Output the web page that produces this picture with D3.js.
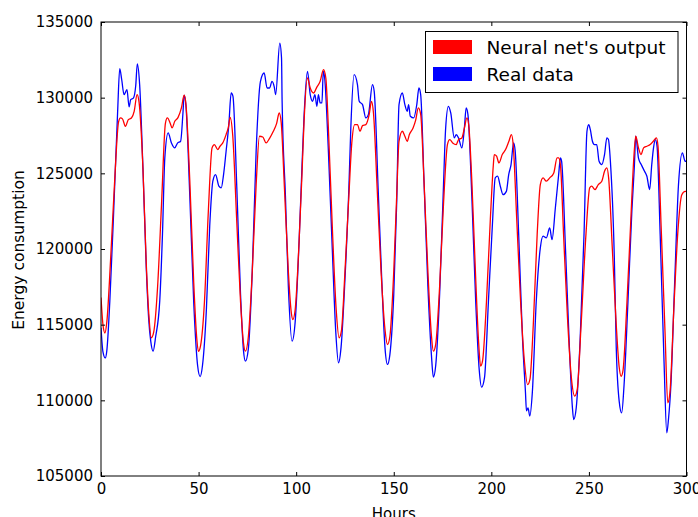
<!DOCTYPE html>
<html><head><meta charset="utf-8">
<script src="https://cdn.jsdelivr.net/npm/d3@7"></script>
<style>
html,body{margin:0;padding:0;background:#fff;}
svg{display:block;font-family:"DejaVu Sans",sans-serif;}
</style></head>
<body>
<svg id="chart" width="698" height="517"></svg>
<script>
// ---- data ----
const seriesNames = ["Neural net's output", "Real data"];
const seriesColors = ["#ff0000", "#0000ff"];
const xTicks = [0, 50, 100, 150, 200, 250, 300];
const yTicks = [105000, 110000, 115000, 120000, 125000, 130000, 135000];

const predHours = [0,1,2,3,5,7,9,10,11,12.5,14,15.6,17,18.5,19.5,21.5,23.2,24.5,25.8,27,29,31,33,34,35.5,36.4,37.8,39.5,41.2,42.6,43.5,45.5,47.5,49,49.9,51,53,55,56.9,58.1,59.8,61,62.4,64.1,65.2,66.2,67.5,69.5,71.5,73,74,75.5,77.5,79.5,81.2,82.9,84.6,86.3,88.3,90,91.3,92.3,94,96,97.5,98.3,99.5,101.5,103,104,105.8,107.2,108.9,110.6,112.3,114,115.2,116.5,118.5,120.5,122,123.2,125,127,128.5,130,131.4,132.7,134,135.7,137.4,138.6,139.6,141.5,143.5,145.5,146.8,148,150,151.5,152.7,154.4,155.7,156.9,158,159.9,161.2,162.6,163.8,165.5,167.5,169.3,170.3,171.5,173.5,175.5,177.5,178.7,180.2,182,183.2,184.9,186.2,187.5,188.4,190,192,193.5,194.5,195.5,197.5,199.5,201,201.5,202.7,203.9,205.6,207.3,209,210.3,211.2,213,215,217,218.6,219.8,221.5,223.5,225.1,226.5,228.2,229.9,232,233.7,234.5,235.4,237,239,241,242.7,244,246,248.5,250.4,251.4,253.1,254.8,256.6,258,259.2,260.1,262,264,265.5,266.5,267.5,269.5,271.5,273,274,275.4,276.7,278,279.7,281.4,283,284.6,285.4,287,289,290.4,291.5,293.5,295.5,297.6,299.3,300];
const predValues = [116800,115000,114450,115200,119500,124500,128400,128660,128600,128110,128550,128660,129100,130200,129700,125300,119000,115700,114130,114500,117500,122930,128300,128660,128300,128000,128440,128700,129320,130160,129600,124500,117800,114200,113230,113600,116500,122500,126680,126900,126570,126790,127010,127560,128000,128700,127500,122000,116500,113800,113250,114200,118500,124260,127450,127400,127010,127300,127780,128300,128990,128400,124000,118500,115800,115340,116000,120500,125000,128300,131300,130640,130310,130700,131080,131850,131300,128000,121500,116000,114130,114600,118500,123500,127000,128220,128220,127780,128150,128220,128880,129760,129000,124000,118500,114700,113690,114200,118500,123500,127120,127780,127450,127120,127560,128000,128500,129320,128900,124500,118500,114300,113250,113700,117500,123000,126900,127230,127010,126900,127230,127340,128000,128660,128200,124500,118000,113800,112260,112600,116500,122000,125500,126240,126130,125690,126240,126570,127120,127560,126900,122000,116500,112500,111040,111400,115000,121000,124260,124700,124480,124700,125030,126020,126020,125580,121000,115500,111500,110280,110700,115000,121000,124040,124150,123920,124260,124480,125140,125360,124700,120000,115000,112200,111590,112000,116500,122000,126000,127450,126680,126240,126680,126790,126900,127120,127340,126800,121500,114500,109840,110500,116000,121000,123590,123810,123800];

const realHours = [0,1,2.2,3,4.5,6.5,8.5,9.6,10.6,11.8,13.3,14.4,15.2,16.6,17.8,18.6,19.8,21.5,23.2,24.4,25.5,26.7,28,30.1,31.5,32.7,34.4,36.1,37.8,39.2,40.8,42,42.6,43.5,45.5,47.5,49.5,50.8,52,54,55.7,57.3,58.7,60.4,61.6,62.8,64.1,65.5,66.7,67.6,69.6,71.5,73,74,75.5,77.5,79.5,81.7,83.6,85.1,86.4,87.6,88.8,89.5,91.6,92.5,92.8,94.5,96,97.9,99.5,101.5,103,104,105.8,107.2,108.4,109.6,110.6,111.4,112.3,113.2,113.9,114.6,116.5,118.5,120.3,121.7,123,125,127,128,129.7,131.4,132.3,134,135.7,137,139.1,140,142,144,145.5,146.8,148,150,151.5,152.7,154.4,155.7,156.9,157.6,158.5,160.2,161.8,162.9,163.8,165.5,167.5,169.3,170.3,171.5,173.5,175.3,176.6,178,179.2,181,182,183.2,184.9,186.2,187.1,188,190,192,193.8,195,196.5,198.5,200.5,202,203.2,204.6,206,207.7,208.9,210.1,211.4,212.2,214,216,217.5,218,218.8,219.7,221,223,225.1,226.5,228.2,229.9,231.1,232.8,234.5,235.4,236,238,240,241.5,242.2,243.5,245.5,247.5,249,249.9,250.7,251.8,252.8,254,255.2,256.6,258,259.2,260,261,263,264,265.5,266.8,268,270,272,273.3,274,275.4,276.8,278.5,279.7,281.1,282.2,283.1,284,284.9,286.5,288.5,289.9,290.8,292,294,295.9,297.9,299.3,300];
const realValues = [114800,113200,112800,113300,116500,122500,129000,131920,131200,130200,130530,129390,129870,129970,130800,132230,130860,125300,118750,115450,113900,113250,114200,116570,121000,126020,127670,127010,126680,127000,127120,129000,130160,129500,123500,116500,112300,111570,112300,116000,121500,124480,124920,124150,124040,124920,126460,128220,130310,130100,124000,117000,113300,112590,113400,118500,126500,131080,131630,130640,130640,131080,130700,130200,133610,132620,129760,123500,117500,113910,115200,120500,125500,128660,131740,130200,129760,130200,129430,130200,129650,129650,131740,131300,126500,120000,114500,112480,113500,118000,124000,128000,131520,130860,129760,129540,128660,128880,130860,130400,124000,117500,113500,112370,113000,117000,123000,129540,130310,129540,129100,129540,128770,128660,129540,130640,130200,124500,117500,113000,111540,112300,117000,123500,128000,129430,128990,127340,127560,127340,126680,128000,129320,128900,123500,116500,112000,110870,111500,116500,121500,124700,124810,124150,123590,123810,124920,125580,127010,126500,121000,114000,110500,109300,109500,108960,110500,116500,120070,120850,120740,121390,120620,122710,124920,126020,125800,120000,113500,109600,108730,109500,114000,121000,127780,128220,127900,127120,126900,126900,125800,125580,126240,127340,127230,125800,119500,113500,109950,109170,111000,116500,122500,125500,127450,126000,125580,125140,124810,123920,125580,126680,127230,126800,121000,112500,107850,108800,111000,118000,124260,126350,125800,125800];

// ---- drawing ----
const svg = d3.select("#chart");
const L = 101, R = 686.5, T = 22, B = 476;
const x = d3.scaleLinear().domain([0, 300]).range([L, R]);
const y = d3.scaleLinear().domain([105000, 135000]).range([B, T]);

const clipId = "plotclip";
svg.append("defs").append("clipPath").attr("id", clipId)
  .append("rect").attr("x", L).attr("y", T).attr("width", R - L).attr("height", B - T);

const line = d3.line().curve(d3.curveMonotoneX).x(d => x(d[0])).y(d => y(d[1]));
const pred = predHours.map((h, i) => [h, predValues[i]]);
const real = realHours.map((h, i) => [h, realValues[i]]);

const g = svg.append("g").attr("clip-path", `url(#${clipId})`);
g.append("path").datum(real).attr("d", line).attr("fill", "none")
  .attr("stroke", seriesColors[1]).attr("stroke-width", 1.3).attr("stroke-linejoin", "round");
g.append("path").datum(pred).attr("d", line).attr("fill", "none")
  .attr("stroke", seriesColors[0]).attr("stroke-width", 1.3).attr("stroke-linejoin", "round");

const fmt = d3.format("d");
function styleAxis(sel) {
  sel.select(".domain").remove();
  sel.selectAll(".tick line").attr("stroke", "#000").attr("stroke-width", 1);
  sel.selectAll("text").attr("fill", "#000").style("font-size", "15px").style("font-family", "DejaVu Sans");
}
svg.append("g").attr("transform", `translate(0,${B})`)
  .call(d3.axisBottom(x).tickValues(xTicks).tickFormat(fmt).tickSizeInner(-4).tickSizeOuter(0).tickPadding(7))
  .call(styleAxis);
svg.append("g").attr("transform", `translate(0,${T})`)
  .call(d3.axisTop(x).tickValues(xTicks).tickFormat("").tickSizeInner(-4).tickSizeOuter(0))
  .call(styleAxis);
svg.append("g").attr("transform", `translate(${L},0)`)
  .call(d3.axisLeft(y).tickValues(yTicks).tickFormat(fmt).tickSizeInner(-4).tickSizeOuter(0).tickPadding(8))
  .call(styleAxis);
svg.append("g").attr("transform", `translate(${R},0)`)
  .call(d3.axisRight(y).tickValues(yTicks).tickFormat("").tickSizeInner(-4).tickSizeOuter(0))
  .call(styleAxis);

svg.append("rect").attr("x", L).attr("y", T).attr("width", R - L).attr("height", B - T)
  .attr("fill", "none").attr("stroke", "#000").attr("stroke-width", 1);

svg.append("text").attr("x", (L + R) / 2).attr("y", 519).attr("text-anchor", "middle")
  .style("font-size", "15px").text("Hours");
svg.append("text").attr("transform", "translate(24,250) rotate(-90)").attr("text-anchor", "middle")
  .style("font-size", "15.5px").text("Energy consumption");

// legend
const lg = svg.append("g");
lg.append("rect").attr("x", 425.5).attr("y", 31.5).attr("width", 252.5).attr("height", 61)
  .attr("fill", "#fff").attr("stroke", "#000").attr("stroke-width", 1);
seriesNames.forEach((name, i) => {
  const yy = 40 + i * 27;
  lg.append("rect").attr("x", 433).attr("y", yy).attr("width", 39).attr("height", 14)
    .attr("fill", seriesColors[i]);
  lg.append("text").attr("x", 486.5).attr("y", yy + 13.5).style("font-size", "18.5px").text(name);
});
</script>
</body></html>
